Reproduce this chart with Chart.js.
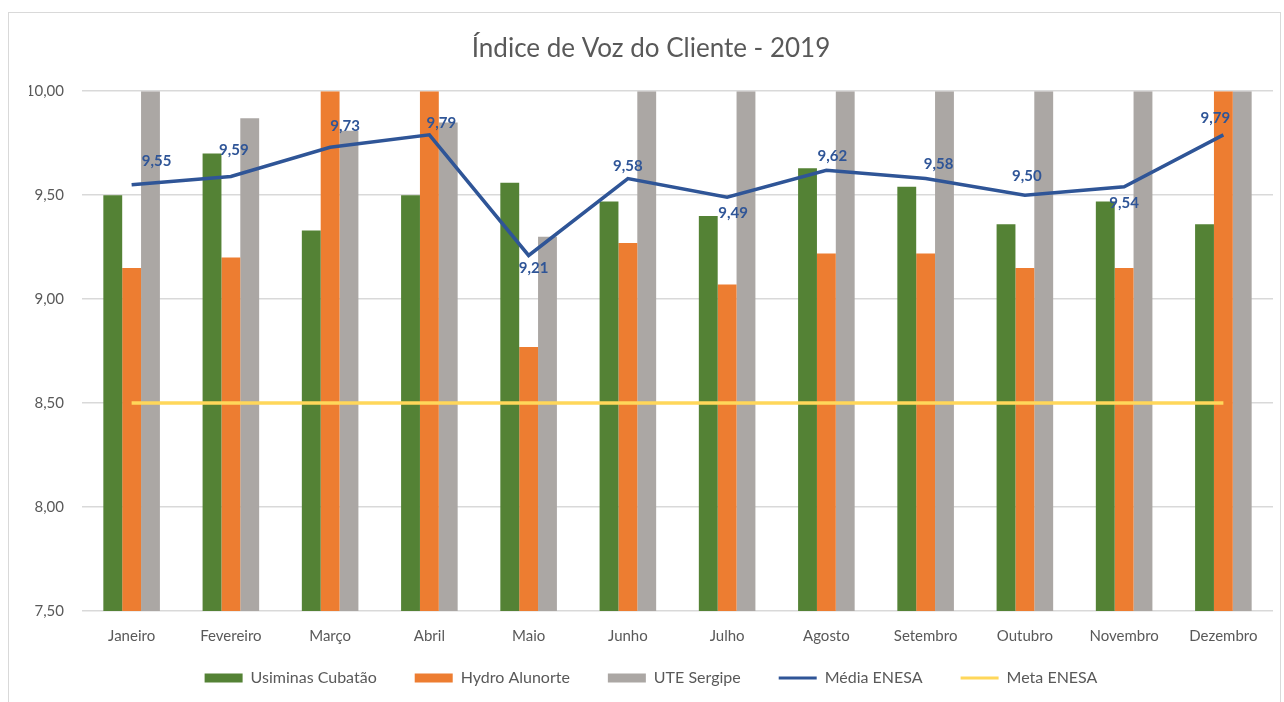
<!DOCTYPE html>
<html lang="pt-BR">
<head>
    <meta charset="UTF-8">
    <title>Índice de Voz do Cliente - 2019</title>
    <style>
        body { margin: 0; background: #fff; }
        #chart { width: 1284px; height: 702px; position: relative; }
    </style>
</head>
<body>
    <div id="chart"><canvas id="cv"></canvas></div>
<script src="https://cdn.jsdelivr.net/npm/chart.js@4/dist/chart.umd.min.js"></script>
<script>
    const meses = ['Janeiro', 'Fevereiro', 'Março', 'Abril', 'Maio', 'Junho', 'Julho', 'Agosto', 'Setembro', 'Outubro', 'Novembro', 'Dezembro'];
    const usiminas = [9.50, 9.70, 9.33, 9.50, 9.56, 9.47, 9.40, 9.63, 9.54, 9.36, 9.47, 9.36];
    const hydro = [9.15, 9.20, 10.00, 10.00, 8.77, 9.27, 9.07, 9.22, 9.22, 9.15, 9.15, 10.00];
    const ute = [10.00, 9.87, 9.81, 9.85, 9.30, 10.00, 10.00, 10.00, 10.00, 10.00, 10.00, 10.00];
    const media = [9.55, 9.59, 9.73, 9.79, 9.21, 9.58, 9.49, 9.62, 9.58, 9.50, 9.54, 9.79];
    const meta = [8.50, 8.50, 8.50, 8.50, 8.50, 8.50, 8.50, 8.50, 8.50, 8.50, 8.50, 8.50];
    const yTicks = [7.50, 8.00, 8.50, 9.00, 9.50, 10.00];

    const fonte = 'Lato, "Liberation Sans", sans-serif';
    const cinza = '#595959';
    const fmt = v => v.toFixed(2).replace('.', ',');

    // deslocamento dos rótulos da média (como no Excel)
    const rotuloDesloc = [[25, -24], [3, -26], [15, -21], [12, -12], [5, 13], [0, -12],
                          [6, 16], [6, -14], [13, -14], [2, -19], [0, 16], [-8, -17]];

    const rotulos = {
        id: 'rotulos',
        afterDatasetsDraw(chart) {
            const ctx = chart.ctx;
            const pts = chart.getDatasetMeta(3).data;
            ctx.save();
            ctx.font = 'bold 15px ' + fonte;
            ctx.fillStyle = '#2F5597';
            ctx.textAlign = 'center';
            ctx.textBaseline = 'middle';
            pts.forEach((p, i) => {
                const d = rotuloDesloc[i];
                ctx.fillText(fmt(media[i]), p.x + d[0], p.y + d[1]);
            });
            ctx.restore();
        }
    };

    const moldura = {
        id: 'moldura',
        beforeDraw(chart) {
            const ctx = chart.ctx;
            ctx.save();
            ctx.fillStyle = '#fff';
            ctx.fillRect(0, 0, chart.width, chart.height);
            ctx.strokeStyle = '#D9D9D9';
            ctx.lineWidth = 1;
            ctx.strokeRect(8.5, 12.5, 1272, 700);
            ctx.restore();
        }
    };

    // legenda mais perto do eixo (o padding da legenda serve só para o espaço horizontal)
    const legendaAjuste = {
        id: 'legendaAjuste',
        afterInit(chart) {
            const lg = chart.legend;
            const fit = lg.fit, draw = lg.draw;
            lg.fit = function () { fit.call(this); this.height -= 21; };
            lg.draw = function () { this.top -= 21; draw.call(this); this.top += 21; };
        }
    };

    new Chart(document.getElementById('cv'), {
        type: 'bar',
        data: {
            labels: meses,
            datasets: [
                { label: 'Usiminas Cubatão', data: usiminas, backgroundColor: '#548235', order: 1 },
                { label: 'Hydro Alunorte', data: hydro, backgroundColor: '#ED7D31', order: 1 },
                { label: 'UTE Sergipe', data: ute, backgroundColor: '#ABA7A4', order: 1 },
                { type: 'line', label: 'Média ENESA', data: media, borderColor: '#2F5597', backgroundColor: '#2F5597',
                  borderWidth: 3.5, pointRadius: 0, tension: 0, order: 0 },
                { type: 'line', label: 'Meta ENESA', data: meta, borderColor: '#FFD75A', backgroundColor: '#FFD75A',
                  borderWidth: 3.5, pointRadius: 0, tension: 0, order: 0 }
            ]
        },
        options: {
            responsive: true,
            maintainAspectRatio: false,
            animation: false,
            datasets: { bar: { categoryPercentage: 0.57, barPercentage: 1.0 } },
            layout: { padding: { top: 14, right: 11, left: 29, bottom: 6 } },
            plugins: {
                title: {
                    display: true,
                    text: 'Índice de Voz do Cliente - 2019',
                    color: cinza,
                    font: { family: fonte, size: 26, weight: 'normal' },
                    padding: { top: 19, bottom: 27 }
                },
                legend: {
                    position: 'bottom',
                    labels: {
                        color: cinza,
                        font: { family: fonte, size: 16 },
                        usePointStyle: true,
                        pointStyleWidth: 38,
                        boxHeight: 9,
                        padding: 38,
                        sort: (a, b) => a.datasetIndex - b.datasetIndex,
                        generateLabels(chart) {
                            const items = Chart.defaults.plugins.legend.labels.generateLabels(chart);
                            return items.map(it => {
                                const ds = chart.data.datasets[it.datasetIndex];
                                if (ds.type === 'line') {
                                    it.pointStyle = 'line';
                                    it.lineWidth = 3;
                                    it.strokeStyle = ds.borderColor;
                                } else {
                                    it.pointStyle = 'rect';
                                    it.lineWidth = 0;
                                }
                                return it;
                            });
                        }
                    }
                },
                tooltip: { enabled: false }
            },
            scales: {
                x: {
                    grid: { display: false },
                    border: { display: false },
                    ticks: { color: cinza, font: { family: fonte, size: 15 }, padding: 8 }
                },
                y: {
                    min: 7.5,
                    max: 10,
                    afterFit(scale) { scale.width = 53; },
                    afterBuildTicks(scale) { scale.ticks = yTicks.map(v => ({ value: v })); },
                    grid: { color: '#D9D9D9', lineWidth: 1.5, drawTicks: false },
                    border: { display: false },
                    ticks: {
                        color: cinza,
                        font: { family: fonte, size: 15 },
                        padding: 18,
                        callback: v => fmt(v)
                    }
                }
            }
        },
        plugins: [moldura, legendaAjuste, rotulos]
    });
</script>
</body>
</html>
